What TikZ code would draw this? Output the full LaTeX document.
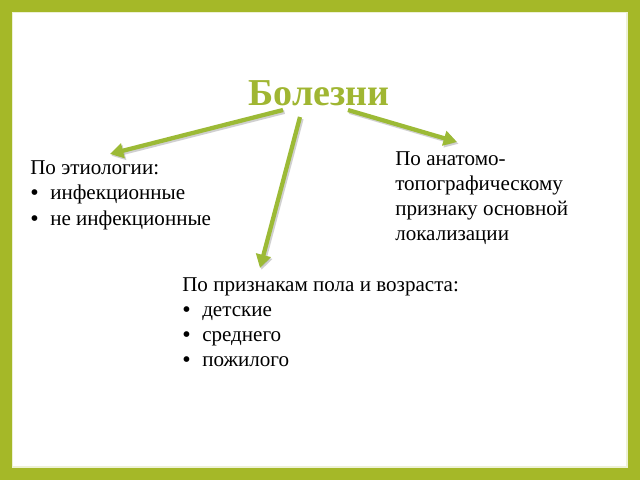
\documentclass[tikz,border=0pt]{standalone}
\usepackage{fontspec}
\setmainfont{Liberation Serif}
\usetikzlibrary{arrows.meta}
\definecolor{frame}{HTML}{A5B828}
\definecolor{arrowgreen}{HTML}{9CBA36}
\definecolor{titlegreen}{HTML}{A0B632}
\tikzset{
  txt/.style={anchor=base west, inner sep=0pt, font=\fontsize{15.8pt}{19pt}\selectfont, text=black},
  bul/.style={anchor=base west, inner sep=0pt, font=\fontsize{18pt}{19pt}\selectfont, text=black},
  link/.style={line width=3.2pt, draw=arrowgreen, -{Triangle[length=10pt,width=11pt]}},
  shade/.style={line width=3.2pt, draw=black!30, opacity=0.6, -{Triangle[length=10pt,width=11pt]}}
}
\begin{document}
\begin{tikzpicture}[x=0.75pt,y=-0.75pt]
\useasboundingbox (0,0) rectangle (640,480);
\fill[frame] (0,0) rectangle (640,480);
\fill[white] (12.5,12.5) rectangle (627,467);
\draw[white!80!frame, line width=0.8pt] (12.5,12.5) rectangle (627,467);

\node[anchor=base, inner sep=0pt, font=\fontsize{28.5pt}{34pt}\selectfont\bfseries, text=titlegreen] (title) at (319,105) {Болезни};

\coordinate (s1) at (283,110);
\coordinate (t1) at (110,154);
\coordinate (s2) at (300,117);
\coordinate (t2) at (260,268);
\coordinate (s3) at (348,110);
\coordinate (t3) at (457,142);

\foreach \a/\b in {s1/t1,s2/t2,s3/t3}{
  \draw[shade] ([shift={(1.5,1.8)}]\a) -- ([shift={(1.5,1.8)}]\b);
}
\draw[link] (s1) -- (t1);
\draw[link] (s2) -- (t2);
\draw[link] (s3) -- (t3);

% left block
\node[txt] (l0) at (30,174) {По этиологии:};
\node[bul] (lb1) at (30,200) {•};
\node[txt] (l1) at (50,199) {инфекционные};
\node[bul] (lb2) at (30,226) {•};
\node[txt] (l2) at (50,225) {не инфекционные};

% right block
\node[txt] (r0) at (395,165) {По анатомо-};
\node[txt] (r1) at (395,190) {топографическому};
\node[txt] (r2) at (395,215) {признаку основной};
\node[txt] (r3) at (395,240) {локализации};

% bottom block
\node[txt] (b0) at (182,291) {По признакам пола и возраста:};
\node[bul] (bb1) at (182,317) {•};
\node[txt] (b1) at (202,316) {детские};
\node[bul] (bb2) at (182,342) {•};
\node[txt] (b2) at (202,341) {среднего};
\node[bul] (bb3) at (182,367) {•};
\node[txt] (b3) at (202,366) {пожилого};
\end{tikzpicture}
\end{document}
